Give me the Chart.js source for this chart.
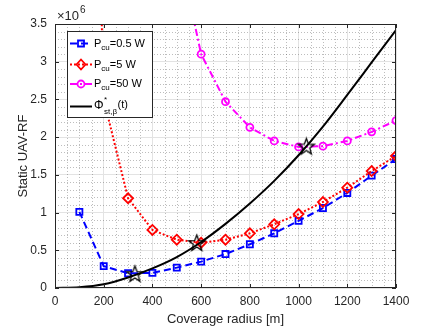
<!DOCTYPE html>
<html>
<head>
<meta charset="utf-8">
<script src="https://cdn.jsdelivr.net/npm/chart.js@4.4.1/dist/chart.umd.min.js"></script>
<style>
  html, body { margin: 0; padding: 0; background: #fff; }
  #wrap { width: 436px; height: 327px; }
</style>
</head>
<body>
<div id="wrap"><canvas id="chart" width="436" height="327"></canvas></div>
<script>
// coverage radius [m] and static UAV-RF values (x 10^6)
const radius = [100, 200, 300, 400, 500, 600, 700, 800, 900, 1000, 1100, 1200, 1300, 1400];
const pcu05 = [1.01, 0.29, 0.195, 0.20, 0.27, 0.35, 0.45, 0.58, 0.725, 0.89, 1.06, 1.26, 1.49, 1.71];
const pcu5 = [15, 2.5, 1.19, 0.77, 0.64, 0.60, 0.64, 0.725, 0.845, 0.98, 1.14, 1.33, 1.55, 1.75];
const pcu50 = [null, null, null, null, 4.6, 3.10, 2.47, 2.13, 1.95, 1.87, 1.88, 1.95, 2.07, 2.22];

// Phi*_{st,beta}(t) curve
const phiRadius = [0, 100, 200, 300, 400, 500, 600, 700, 800, 900, 1000, 1100, 1200, 1300, 1400];
const phiValues = [0, 0.01, 0.05, 0.14, 0.26, 0.41, 0.61, 0.85, 1.12, 1.42, 1.76, 2.14, 2.56, 2.99, 3.42];

// crossing points (stars)
const starRadius = [328, 582, 1032];
const starValues = [0.18, 0.59, 1.87];

const xTicks = [0, 200, 400, 600, 800, 1000, 1200, 1400];
const yTicks = [0, 0.5, 1, 1.5, 2, 2.5, 3, 3.5];

const FONT = '"Liberation Sans", Arial, sans-serif';
const AXIS = '#262626';

function toPoints(xs, ys) {
    return xs.map((x, i) => ({ x: x, y: ys[i] })).filter(p => p.y !== null);
}

// five pointed star used as marker
function makeStar(r) {
    const c = document.createElement('canvas');
    const s = Math.ceil(2 * r + 4);
    c.width = s; c.height = s;
    const g = c.getContext('2d');
    g.beginPath();
    for (let i = 0; i < 10; i++) {
        const rr = i % 2 ? r * 0.42 : r;
        const a = -Math.PI / 2 + i * Math.PI / 5;
        const px = s / 2 + rr * Math.cos(a), py = s / 2 + rr * Math.sin(a);
        if (i === 0) g.moveTo(px, py); else g.lineTo(px, py);
    }
    g.closePath();
    g.strokeStyle = '#000';
    g.lineWidth = 1.3;
    g.stroke();
    return c;
}

function drawMarker(ctx, type, x, y, color) {
    ctx.save();
    ctx.setLineDash([]);
    ctx.strokeStyle = color;
    ctx.lineWidth = 1.8;
    ctx.beginPath();
    if (type === 'rect') {
        ctx.rect(x - 3, y - 3, 6, 6);
    } else if (type === 'rectRot') {
        ctx.moveTo(x, y - 5); ctx.lineTo(x + 4.5, y); ctx.lineTo(x, y + 5); ctx.lineTo(x - 4.5, y); ctx.closePath();
    } else if (type === 'circle') {
        ctx.arc(x, y, 3.5, 0, Math.PI * 2);
    }
    ctx.stroke();
    ctx.restore();
}

const legendItems = [
    { label: '=0.5 W', color: '#0000ff', dash: [7, 4], marker: 'rect' },
    { label: '=5 W', color: '#ff0000', dash: [2, 2], marker: 'rectRot' },
    { label: '=50 W', color: '#ff00ff', dash: [7, 3, 2, 3], marker: 'circle' },
    { label: 'phi', color: '#000000', dash: [], marker: null }
];

const matlabAxes = {
    id: 'matlabAxes',
    beforeDatasetsDraw(chart) {
        const { ctx, chartArea: a, scales: { x, y } } = chart;
        ctx.save();
        ctx.strokeStyle = 'rgba(38,38,38,0.3)';
        ctx.lineWidth = 1;
        ctx.setLineDash([1, 2]);
        for (let v = 50; v < 1400; v += 50) {
            if (v % 200 === 0) continue;
            const px = Math.round(x.getPixelForValue(v)) + 0.5;
            ctx.beginPath(); ctx.moveTo(px, a.top); ctx.lineTo(px, a.bottom); ctx.stroke();
        }
        for (let k = 1; k < 35; k++) {
            if (k % 5 === 0) continue;
            const py = Math.round(y.getPixelForValue(k / 10)) + 0.5;
            ctx.beginPath(); ctx.moveTo(a.left, py); ctx.lineTo(a.right, py); ctx.stroke();
        }
        ctx.restore();
    },
    afterDatasetsDraw(chart) {
        const { ctx, chartArea: a, scales: { x, y } } = chart;
        ctx.save();
        ctx.strokeStyle = AXIS;
        ctx.lineWidth = 1;
        ctx.strokeRect(a.left + 0.5, a.top + 0.5, a.right - a.left - 1, a.bottom - a.top - 1);
        ctx.beginPath();
        xTicks.forEach(v => {
            const px = Math.round(x.getPixelForValue(v)) + 0.5;
            ctx.moveTo(px, a.bottom); ctx.lineTo(px, a.bottom - 4);
            ctx.moveTo(px, a.top); ctx.lineTo(px, a.top + 4);
        });
        yTicks.forEach(v => {
            const py = Math.round(y.getPixelForValue(v)) + 0.5;
            ctx.moveTo(a.left, py); ctx.lineTo(a.left + 4, py);
            ctx.moveTo(a.right, py); ctx.lineTo(a.right - 4, py);
        });
        ctx.stroke();
        // exponent label
        ctx.fillStyle = AXIS;
        ctx.textBaseline = 'alphabetic';
        ctx.textAlign = 'left';
        ctx.font = '13px ' + FONT;
        ctx.fillText('\u00d710', a.left + 2, a.top - 4);
        const w = ctx.measureText('\u00d710').width;
        ctx.font = '10px ' + FONT;
        ctx.fillText('6', a.left + 2 + w + 1, a.top - 11);
        ctx.restore();
    },
    afterDraw(chart) {
        const { ctx, chartArea: a } = chart;
        const bx = a.left + 12, by = a.top + 7, bw = 85, bh = 86;
        ctx.save();
        ctx.fillStyle = '#fff';
        ctx.fillRect(bx, by, bw, bh);
        ctx.strokeStyle = AXIS;
        ctx.lineWidth = 1;
        ctx.strokeRect(bx + 0.5, by + 0.5, bw, bh);
        const rows = [by + 12.5, by + 33.5, by + 53, by + 75.5];
        legendItems.forEach((it, i) => {
            const ly = rows[i];
            ctx.save();
            ctx.strokeStyle = it.color;
            ctx.lineWidth = 2;
            ctx.setLineDash(it.dash);
            ctx.beginPath(); ctx.moveTo(bx + 3, ly); ctx.lineTo(bx + 25, ly); ctx.stroke();
            ctx.restore();
            if (it.marker) drawMarker(ctx, it.marker, bx + 14, ly, it.color);
            ctx.fillStyle = '#000';
            ctx.textBaseline = 'middle';
            ctx.textAlign = 'left';
            let tx = bx + 27;
            if (it.label === 'phi') {
                ctx.font = '12px ' + FONT;
                ctx.fillText('\u03a6', tx, ly - 1);
                tx += ctx.measureText('\u03a6').width + 0.5;
                ctx.font = '8px ' + FONT;
                ctx.fillText('*', tx, ly - 7);
                ctx.fillText('st,\u03b2', tx, ly + 5);
                tx += ctx.measureText('st,\u03b2').width + 0.5;
                ctx.font = '11px ' + FONT;
                ctx.fillText('(t)', tx, ly - 2);
            } else {
                ctx.font = '11px ' + FONT;
                ctx.fillText('P', tx, ly);
                tx += ctx.measureText('P').width;
                ctx.font = '8px ' + FONT;
                ctx.fillText('cu', tx, ly + 4);
                tx += ctx.measureText('cu').width;
                ctx.font = '11px ' + FONT;
                ctx.fillText(it.label, tx, ly);
            }
        });
        ctx.restore();
    }
};

const starImg = makeStar(8.5);

new Chart(document.getElementById('chart'), {
    type: 'scatter',
    data: {
        datasets: [
            {
                label: 'stars',
                data: toPoints(starRadius, starValues),
                showLine: false,
                pointStyle: starImg,
                pointRadius: 9
            },
            {
                label: 'phi',
                data: toPoints(phiRadius, phiValues),
                showLine: true,
                borderColor: '#000',
                borderWidth: 2,
                pointRadius: 0,
                cubicInterpolationMode: 'monotone'
            },
            {
                label: 'Pcu=50 W',
                data: toPoints(radius, pcu50),
                showLine: true,
                borderColor: '#ff00ff',
                borderWidth: 2,
                borderDash: [7, 3, 2, 3],
                pointStyle: 'circle',
                pointRadius: 3.5,
                pointBorderWidth: 1.8,
                pointBorderColor: '#ff00ff',
                pointBackgroundColor: 'rgba(0,0,0,0)'
            },
            {
                label: 'Pcu=5 W',
                data: toPoints(radius, pcu5),
                showLine: true,
                borderColor: '#ff0000',
                borderWidth: 2,
                borderDash: [2, 2],
                pointStyle: 'rectRot',
                pointRadius: 5,
                pointBorderWidth: 1.8,
                pointBorderColor: '#ff0000',
                pointBackgroundColor: 'rgba(0,0,0,0)'
            },
            {
                label: 'Pcu=0.5 W',
                data: toPoints(radius, pcu05),
                showLine: true,
                borderColor: '#0000ff',
                borderWidth: 2,
                borderDash: [7, 4],
                pointStyle: 'rect',
                pointRadius: 4.3,
                pointBorderWidth: 1.8,
                pointBorderColor: '#0000ff',
                pointBackgroundColor: 'rgba(0,0,0,0)'
            }
        ]
    },
    options: {
        responsive: false,
        animation: false,
        events: [],
        layout: { padding: { left: 0, right: 40, top: 24, bottom: 0 } },
        plugins: {
            legend: { display: false },
            tooltip: { enabled: false }
        },
        scales: {
            x: {
                type: 'linear',
                min: 0,
                max: 1400,
                afterBuildTicks: scale => { scale.ticks = xTicks.map(v => ({ value: v })); },
                afterFit: scale => { scale.height = 39; },
                grid: { color: '#e3e3e3', lineWidth: 1, drawTicks: false },
                border: { display: false },
                ticks: {
                    padding: 6,
                    color: AXIS,
                    font: { family: FONT, size: 12 },
                    maxRotation: 0,
                    callback: v => String(v)
                },
                title: {
                    display: true,
                    text: 'Coverage radius [m]',
                    color: AXIS,
                    font: { family: FONT, size: 13 },
                    padding: { top: 4, bottom: 0 }
                }
            },
            y: {
                type: 'linear',
                min: 0,
                max: 3.5,
                afterBuildTicks: scale => { scale.ticks = yTicks.map(v => ({ value: v })); },
                afterFit: scale => { scale.width = 55; },
                grid: { color: '#e3e3e3', lineWidth: 1, drawTicks: false },
                border: { display: false },
                ticks: {
                    padding: 8,
                    color: AXIS,
                    font: { family: FONT, size: 12 },
                    callback: v => String(v)
                },
                title: {
                    display: true,
                    text: 'Static UAV-RF',
                    color: AXIS,
                    font: { family: FONT, size: 13 },
                    padding: { top: 16, bottom: 0 }
                }
            }
        }
    },
    plugins: [matlabAxes]
});
</script>
</body>
</html>
